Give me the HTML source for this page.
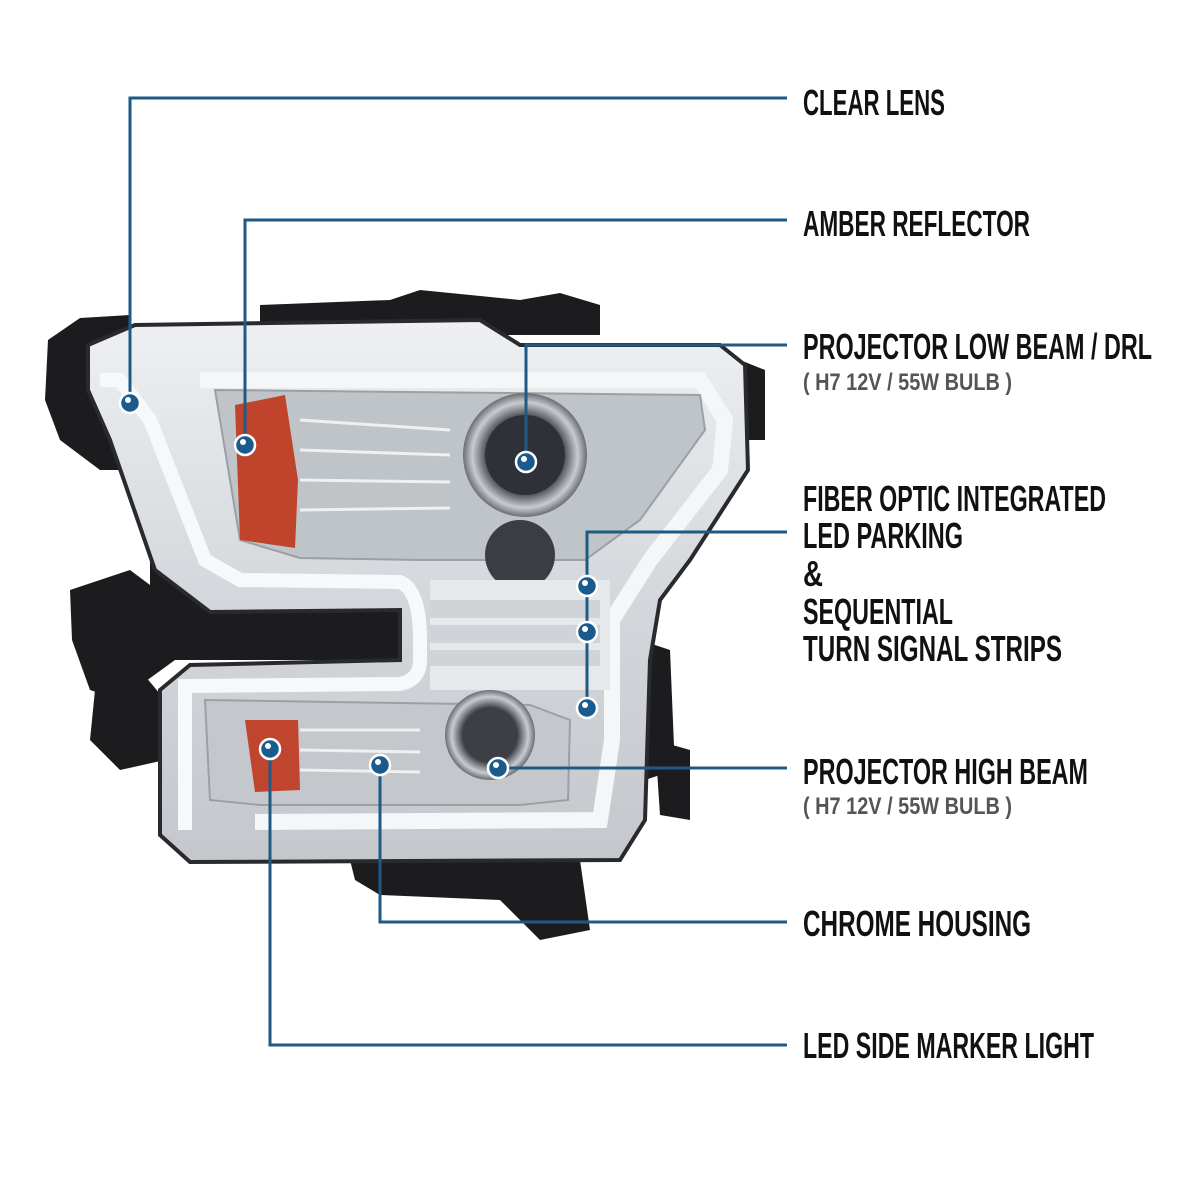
<!DOCTYPE html>
<html><head><meta charset="utf-8"><style>
html,body{margin:0;padding:0;background:#fff;}
svg{display:block}
.t{font-family:"Liberation Sans Narrow","Liberation Sans",sans-serif;font-size:36px;font-weight:bold;fill:#111;}
.s{font-family:"Liberation Sans Narrow","Liberation Sans",sans-serif;font-size:24px;font-weight:bold;fill:#555;}
</style></head><body>
<svg width="1200" height="1200" viewBox="0 0 1200 1200" xmlns="http://www.w3.org/2000/svg">
<defs>
<linearGradient id="chr" x1="0" y1="0" x2="0" y2="1">
<stop offset="0" stop-color="#eef0f2"/><stop offset=".5" stop-color="#d4d8dc"/><stop offset="1" stop-color="#c4c8cc"/>
</linearGradient>
<radialGradient id="lens" cx=".5" cy=".5" r=".5">
<stop offset="0" stop-color="#8a8e94"/><stop offset=".6" stop-color="#3a3e44"/><stop offset=".85" stop-color="#c8ccd0"/><stop offset="1" stop-color="#6a6e74"/>
</radialGradient>
</defs>
<g fill="#1c1c1e">
<path d="M260 305 L390 300 L420 290 L520 300 L560 293 L600 305 L600 335 L260 335Z"/>
<path d="M48 340 L80 318 L130 315 L135 470 L100 470 L60 440 L45 400Z"/>
<path d="M70 590 L130 570 L170 600 L175 660 L120 700 L90 690 L72 640Z"/>
<path d="M95 690 L140 670 L165 700 L165 760 L120 770 L90 740Z"/>
<path d="M740 360 L765 370 L765 440 L740 440Z"/>
<path d="M150 560 L420 560 L420 660 L150 660Z"/>
<path d="M640 640 L670 650 L675 770 L645 780Z"/>
<path d="M350 860 L580 860 L590 930 L540 940 L500 900 L380 895 L355 880Z"/>
<path d="M655 740 L690 750 L690 820 L660 815Z"/>
</g>
<path d="M88 345 L135 325 L480 320 L520 345 L720 345 L745 365 L748 470 L690 560 L660 600 L650 660 L645 820 L620 860 L190 862 L160 835 L160 690 L190 665 L400 660 L400 610 L210 612 L155 570 L110 440 L88 390Z" fill="url(#chr)" stroke="#2a2a2e" stroke-width="4"/>
<path d="M100 380 L120 380 L150 420 L205 560 L240 580 L400 582 Q420 590 420 640 L420 660 Q420 680 400 684 L185 686 L185 830" fill="none" stroke="#f6f8fa" stroke-width="14"/>
<path d="M200 380 L700 380 L725 420 L720 470 L650 560 L612 620 L612 740 L600 820 L255 822" fill="none" stroke="#f4f6f8" stroke-width="16"/>
<path d="M215 390 L700 395 L705 430 L640 520 L585 560 L420 560 L300 558 L240 540Z" fill="#bfc4c9" stroke="#9aa0a6" stroke-width="2"/>
<g stroke="#eef0f2" stroke-width="3"><line x1="300" y1="420" x2="450" y2="430"/><line x1="300" y1="450" x2="450" y2="455"/><line x1="300" y1="480" x2="450" y2="482"/><line x1="300" y1="510" x2="450" y2="508"/></g>
<path d="M235 405 L285 395 L298 480 L295 548 L240 540Z" fill="#c0432c"/>
<circle cx="525" cy="455" r="62" fill="url(#lens)"/>
<circle cx="525" cy="455" r="40" fill="#2e3238"/>
<circle cx="520" cy="555" r="35" fill="#3a3e44"/>
<rect x="430" y="580" width="180" height="110" fill="#e6e9ec"/>
<g fill="#d0d4d8"><rect x="430" y="600" width="170" height="18"/><rect x="430" y="625" width="170" height="18"/><rect x="430" y="650" width="170" height="16"/></g>
<path d="M205 700 L530 705 L570 720 L568 800 L520 805 L260 805 L210 800Z" fill="#c4c8cc" stroke="#9aa0a6" stroke-width="2"/>
<g stroke="#eef0f2" stroke-width="3"><line x1="300" y1="730" x2="420" y2="730"/><line x1="300" y1="750" x2="420" y2="752"/><line x1="300" y1="770" x2="420" y2="772"/></g>
<path d="M245 720 L298 720 L300 790 L255 792Z" fill="#c0452e"/>
<circle cx="490" cy="735" r="45" fill="url(#lens)"/>
<circle cx="490" cy="735" r="26" fill="#3c4046"/>
<g fill="none" stroke="#1f5a85" stroke-width="3">
<polyline points="130,403 130,98 787,98"/>
<polyline points="245,445 245,220 787,220"/>
<polyline points="526,462 526,345 787,345"/>
<polyline points="587,708 587,532 787,532"/>
<polyline points="498,768 787,768"/>
<polyline points="380,765 380,922 787,922"/>
<polyline points="270,749 270,1045 787,1045"/>
</g>
<g fill="#1a5a8c" stroke="#fff" stroke-width="2.5">
<circle cx="130" cy="403" r="10"/><circle cx="245" cy="445" r="10"/><circle cx="526" cy="462" r="10"/>
<circle cx="587" cy="586" r="10"/><circle cx="587" cy="632" r="10"/><circle cx="587" cy="708" r="10"/>
<circle cx="498" cy="768" r="10"/><circle cx="380" cy="765" r="10"/><circle cx="270" cy="749" r="10"/>
</g>
<g fill="#fff">
<circle cx="128" cy="400" r="3"/><circle cx="243" cy="442" r="3"/><circle cx="524" cy="459" r="3"/>
<circle cx="585" cy="583" r="3"/><circle cx="585" cy="629" r="3"/><circle cx="585" cy="705" r="3"/>
<circle cx="496" cy="765" r="3"/><circle cx="378" cy="762" r="3"/><circle cx="268" cy="746" r="3"/>
</g>
<text class="t" x="803" y="115" textLength="142" lengthAdjust="spacingAndGlyphs">CLEAR LENS</text>
<text class="t" x="803" y="236" textLength="227" lengthAdjust="spacingAndGlyphs">AMBER REFLECTOR</text>
<text class="t" x="803" y="359" textLength="349" lengthAdjust="spacingAndGlyphs">PROJECTOR LOW BEAM / DRL</text>
<text class="s" x="803" y="390" textLength="209" lengthAdjust="spacingAndGlyphs">( H7  12V / 55W  BULB )</text>
<text class="t" x="803" y="511" textLength="303" lengthAdjust="spacingAndGlyphs">FIBER OPTIC INTEGRATED</text>
<text class="t" x="803" y="548" textLength="160" lengthAdjust="spacingAndGlyphs">LED PARKING</text>
<text class="t" x="803" y="586" textLength="20" lengthAdjust="spacingAndGlyphs">&amp;</text>
<text class="t" x="803" y="624" textLength="150" lengthAdjust="spacingAndGlyphs">SEQUENTIAL</text>
<text class="t" x="803" y="661" textLength="259" lengthAdjust="spacingAndGlyphs">TURN SIGNAL STRIPS</text>
<text class="t" x="803" y="784" textLength="285" lengthAdjust="spacingAndGlyphs">PROJECTOR HIGH BEAM</text>
<text class="s" x="803" y="814" textLength="209" lengthAdjust="spacingAndGlyphs">( H7  12V / 55W  BULB )</text>
<text class="t" x="803" y="936" textLength="228" lengthAdjust="spacingAndGlyphs">CHROME HOUSING</text>
<text class="t" x="803" y="1058" textLength="291" lengthAdjust="spacingAndGlyphs">LED SIDE MARKER LIGHT</text>
</svg>
</body></html>
